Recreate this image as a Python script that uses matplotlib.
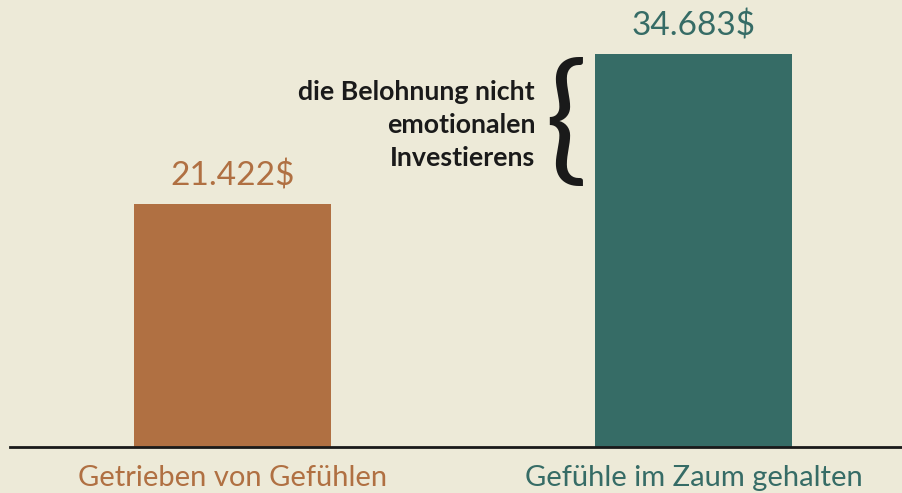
import matplotlib.pyplot as plt

categories = ["Getrieben von Gefühlen", "Gefühle im Zaum gehalten"]
values = [21.422, 34.683]
value_labels = ["21.422$", "34.683$"]
colors = ["#B07042", "#366C66"]
note = "die Belohnung nicht\nemotionalen\nInvestierens"

bg = "#EDEAD8"
plt.rcParams['font.family'] = ['Lato', 'DejaVu Sans']

fig = plt.figure(figsize=(9.03, 4.93), dpi=100, facecolor=bg)
ax = fig.add_axes([10/903, 46/493, 893/903, 447/493], facecolor=bg)

x = [0, 1]
ax.bar(x, values, width=0.427, color=colors, zorder=2)
ax.set_xlim(-0.483, 1.454)
ax.set_ylim(0, 39.45)

for xi, v, lab, c in zip(x, values, value_labels, colors):
    ax.text(xi, v + 1.1, lab, ha='center', va='bottom', fontsize=24, color=c)

ax.set_xticks(x)
ax.set_xticklabels(categories, fontsize=21)
for t, c in zip(ax.get_xticklabels(), colors):
    t.set_color(c)
ax.tick_params(axis='x', length=0, pad=13)
ax.set_yticks([])
for s in ['top', 'left', 'right']:
    ax.spines[s].set_visible(False)
ax.spines['bottom'].set_linewidth(2)
ax.spines['bottom'].set_color('#1a1a1a')

# annotation
ax.text(0.656, 32.4, note, ha='right', va='top', fontsize=19.3, fontweight='bold',
        color='#1a1a1a', linespacing=1.45)
ax.text(0.722, 28.4, "{", ha='center', va='center', fontsize=102, color='#1a1a1a')

fig.savefig("out.png", dpi=100, facecolor=bg)
